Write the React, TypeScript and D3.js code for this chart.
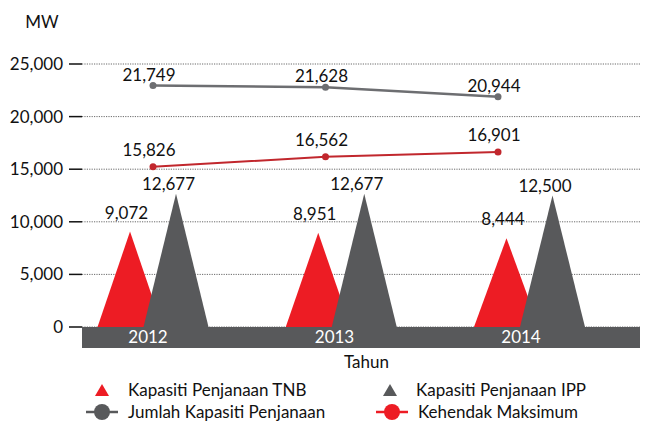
import React from "react";
import * as d3 from "d3";

const years = ["2012", "2013", "2014"];
const tnbCapacity = [9072, 8951, 8444];
const ippCapacity = [12677, 12677, 12500];
const totalCapacity = [21749, 21628, 20944];
const maxDemand = [15826, 16562, 16901];
const yTicks = [0, 5000, 10000, 15000, 20000, 25000];

const RED = "#ed1c24";
const GREY = "#58595b";
const LINE_GREY = "#6d6e71";
const LINE_RED = "#c1272d";
const FONT = "Lato, 'Open Sans', sans-serif";

const W = 646;
const H = 423;
const left = 82;
const right = 640;

const fmt = d3.format(",");

const App = () => {
  // main value axis (triangles, ticks)
  const y = d3.scaleLinear().domain([0, 25000]).range([327, 64]);
  // the line series sit on their own (stretched) scale in the original
  const yLine = d3.scaleLinear().domain([0, 25000]).range([384, 41]);

  const xGroup = d3.scaleBand().domain(years).range([58.9, 623.6]);
  const xLine = d3.scalePoint().domain(years).range([153, 498]);
  const xYear = d3.scalePoint().domain(years).range([148, 521]);

  const half = 32.5;
  const shift = 23;
  const center = (yr: string) => (xGroup(yr) as number) + xGroup.bandwidth() / 2;

  const tri = (cx: number, v: number) =>
    `M${cx - half},${y(0)}L${cx},${y(v)}L${cx + half},${y(0)}Z`;

  const line = d3
    .line<number>()
    .x((_, i) => xLine(years[i]) as number)
    .y((d) => yLine(d));

  const legend = [
    { label: "Kapasiti Penjanaan TNB", kind: "tri", color: RED, x: 102, y: 390 },
    { label: "Kapasiti Penjanaan IPP", kind: "tri", color: GREY, x: 390, y: 390 },
    { label: "Jumlah Kapasiti Penjanaan", kind: "dot", color: GREY, x: 102, y: 412 },
    { label: "Kehendak Maksimum", kind: "dot", color: RED, x: 392, y: 412 },
  ];

  return (
    <svg
      width={W}
      height={H}
      style={{ position: "absolute", left: 0, top: 0, background: "#fff" }}
      fontFamily={FONT}
    >
      <text x={42} y={28} fontSize={17} textAnchor="middle" fill="#111">
        MW
      </text>

      {/* grid + ticks */}
      {yTicks.map((t) => (
        <g key={t}>
          <line
            x1={left}
            x2={right}
            y1={y(t)}
            y2={y(t)}
            stroke="#444"
            strokeWidth={0.8}
            strokeDasharray="1.2,1.2"
          />
          <line x1={69} x2={left} y1={y(t)} y2={y(t)} stroke="#111" strokeWidth={1.5} />
          <text x={63} y={y(t) + 6} fontSize={17} textAnchor="end" fill="#111">
            {fmt(t)}
          </text>
        </g>
      ))}

      {/* triangles */}
      {years.map((yr, i) => (
        <g key={yr}>
          <path d={tri(center(yr) - shift, tnbCapacity[i])} fill={RED} />
          <path d={tri(center(yr) + shift, ippCapacity[i])} fill={GREY} />
          <text
            x={center(yr) - shift - 3.5}
            y={y(tnbCapacity[i]) - 13}
            fontSize={17}
            textAnchor="middle"
            fill="#111"
          >
            {fmt(tnbCapacity[i])}
          </text>
          <text
            x={center(yr) + shift - 7.5}
            y={y(ippCapacity[i]) - 4}
            fontSize={17}
            textAnchor="middle"
            fill="#111"
          >
            {fmt(ippCapacity[i])}
          </text>
        </g>
      ))}

      {/* year band */}
      <rect x={left} y={y(0)} width={right - left} height={21} fill={GREY} />
      {years.map((yr) => (
        <text
          key={yr}
          x={xYear(yr)}
          y={343}
          fontSize={17}
          textAnchor="middle"
          fill="#fff"
        >
          {yr}
        </text>
      ))}
      <text x={366.5} y={368} fontSize={17} textAnchor="middle" fill="#111">
        Tahun
      </text>

      {/* lines */}
      <path d={line(totalCapacity) ?? ""} fill="none" stroke={LINE_GREY} strokeWidth={2.5} />
      <path d={line(maxDemand) ?? ""} fill="none" stroke={LINE_RED} strokeWidth={2} />
      {years.map((yr, i) => (
        <g key={yr}>
          <circle cx={xLine(yr)} cy={yLine(totalCapacity[i])} r={3.5} fill={LINE_GREY} />
          <circle cx={xLine(yr)} cy={yLine(maxDemand[i])} r={3.5} fill={LINE_RED} />
          <text
            x={(xLine(yr) as number) - 4}
            y={yLine(totalCapacity[i]) - 5}
            fontSize={17}
            textAnchor="middle"
            fill="#111"
          >
            {fmt(totalCapacity[i])}
          </text>
          <text
            x={(xLine(yr) as number) - 4}
            y={yLine(maxDemand[i]) - 11}
            fontSize={17}
            textAnchor="middle"
            fill="#111"
          >
            {fmt(maxDemand[i])}
          </text>
        </g>
      ))}

      {/* legend */}
      {legend.map((d) => (
        <g key={d.label}>
          {d.kind === "tri" ? (
            <path
              d={`M${d.x - 7},${d.y + 6}L${d.x},${d.y - 6}L${d.x + 7},${d.y + 6}Z`}
              fill={d.color}
            />
          ) : (
            <g>
              <line x1={d.x - 16} x2={d.x + 16} y1={d.y} y2={d.y} stroke={d.color} strokeWidth={2.5} />
              <circle cx={d.x} cy={d.y} r={8} fill={d.color} />
            </g>
          )}
          <text x={d.x + 26} y={d.y + 6} fontSize={17} fill="#111">
            {d.label}
          </text>
        </g>
      ))}
    </svg>
  );
};

export default App;
